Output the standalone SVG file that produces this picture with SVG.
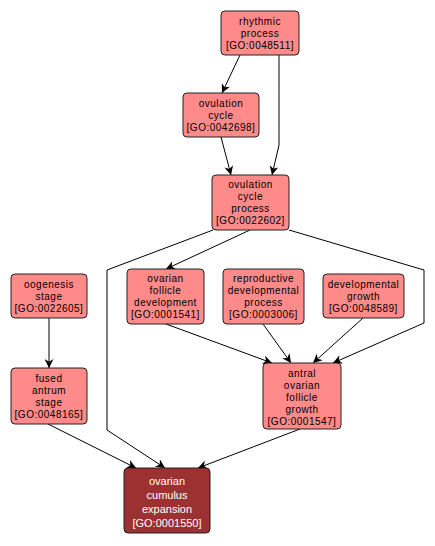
<svg xmlns="http://www.w3.org/2000/svg" width="435" height="546" viewBox="0 0 435 546">
<style>
.n rect{fill:#ff8a8a;stroke:#222;stroke-width:1}
.n text{font-family:"Liberation Sans",Arial,sans-serif;font-size:10px;letter-spacing:0.5px;text-anchor:middle;fill:#000}
#n10 rect{fill:#9b3131}
#n10 text{fill:#fff;font-size:11px;letter-spacing:0}
.e path{fill:none;stroke:#000;stroke-width:1;marker-end:url(#a)}
</style>
<defs>
<marker id="a" viewBox="0 0 10 10" refX="10" refY="5" markerWidth="9" markerHeight="9" markerUnits="userSpaceOnUse" orient="auto">
<path d="M0,0 L10,5 L0,10 L3,5 z" fill="#000"/>
</marker>
</defs>
<rect width="435" height="546" fill="#fff"/>
<g class="e">
<path d="M240,55 L222,93"/>
<path d="M279,55 L279,145 L272,175"/>
<path d="M221,137 L231,175"/>
<path d="M250,230 L166,269"/>
<path d="M213,230 L107,270 L107,430 L165,468"/>
<path d="M289,230 L424,270 L424,323 L333,363"/>
<path d="M166,324 L272,363"/>
<path d="M263,324 L291,363"/>
<path d="M363,318 L313,363"/>
<path d="M49,318 L49,368"/>
<path d="M48,424 L136,468"/>
<path d="M300,429 L198,468"/>
</g>
<g id="n1" class="n"><rect x="221" y="11" width="78" height="44" rx="4"/><text x="260" y="25">rhythmic</text><text x="260" y="37">process</text><text x="260" y="49">[GO:0048511]</text></g>
<g id="n2" class="n"><rect x="183" y="93" width="76" height="44" rx="4"/><text x="221" y="107">ovulation</text><text x="221" y="119">cycle</text><text x="221" y="131">[GO:0042698]</text></g>
<g id="n3" class="n"><rect x="212" y="175" width="77" height="55" rx="4"/><text x="250.5" y="188">ovulation</text><text x="250.5" y="200">cycle</text><text x="250.5" y="212">process</text><text x="250.5" y="224">[GO:0022602]</text></g>
<g id="n4" class="n"><rect x="11" y="274" width="76" height="44" rx="4"/><text x="49" y="288">oogenesis</text><text x="49" y="300">stage</text><text x="49" y="312">[GO:0022605]</text></g>
<g id="n5" class="n"><rect x="11" y="368" width="76" height="56" rx="4"/><text x="49" y="382">fused</text><text x="49" y="394">antrum</text><text x="49" y="406">stage</text><text x="49" y="418">[GO:0048165]</text></g>
<g id="n6" class="n"><rect x="127" y="269" width="77" height="55" rx="4"/><text x="165.5" y="282">ovarian</text><text x="165.5" y="294">follicle</text><text x="165.5" y="306">development</text><text x="165.5" y="318">[GO:0001541]</text></g>
<g id="n7" class="n"><rect x="223" y="269" width="81" height="55" rx="4"/><text x="263.5" y="282">reproductive</text><text x="263.5" y="294">developmental</text><text x="263.5" y="306">process</text><text x="263.5" y="318">[GO:0003006]</text></g>
<g id="n8" class="n"><rect x="323" y="274" width="81" height="44" rx="4"/><text x="363.5" y="288">developmental</text><text x="363.5" y="300">growth</text><text x="363.5" y="312">[GO:0048589]</text></g>
<g id="n9" class="n"><rect x="263" y="363" width="78" height="66" rx="4"/><text x="302" y="377">antral</text><text x="302" y="389">ovarian</text><text x="302" y="401">follicle</text><text x="302" y="413">growth</text><text x="302" y="425">[GO:0001547]</text></g>
<g id="n10" class="n"><rect x="124" y="468" width="86" height="65" rx="4"/><text x="167" y="485">ovarian</text><text x="167" y="499">cumulus</text><text x="167" y="513">expansion</text><text x="167" y="527">[GO:0001550]</text></g>
</svg>
